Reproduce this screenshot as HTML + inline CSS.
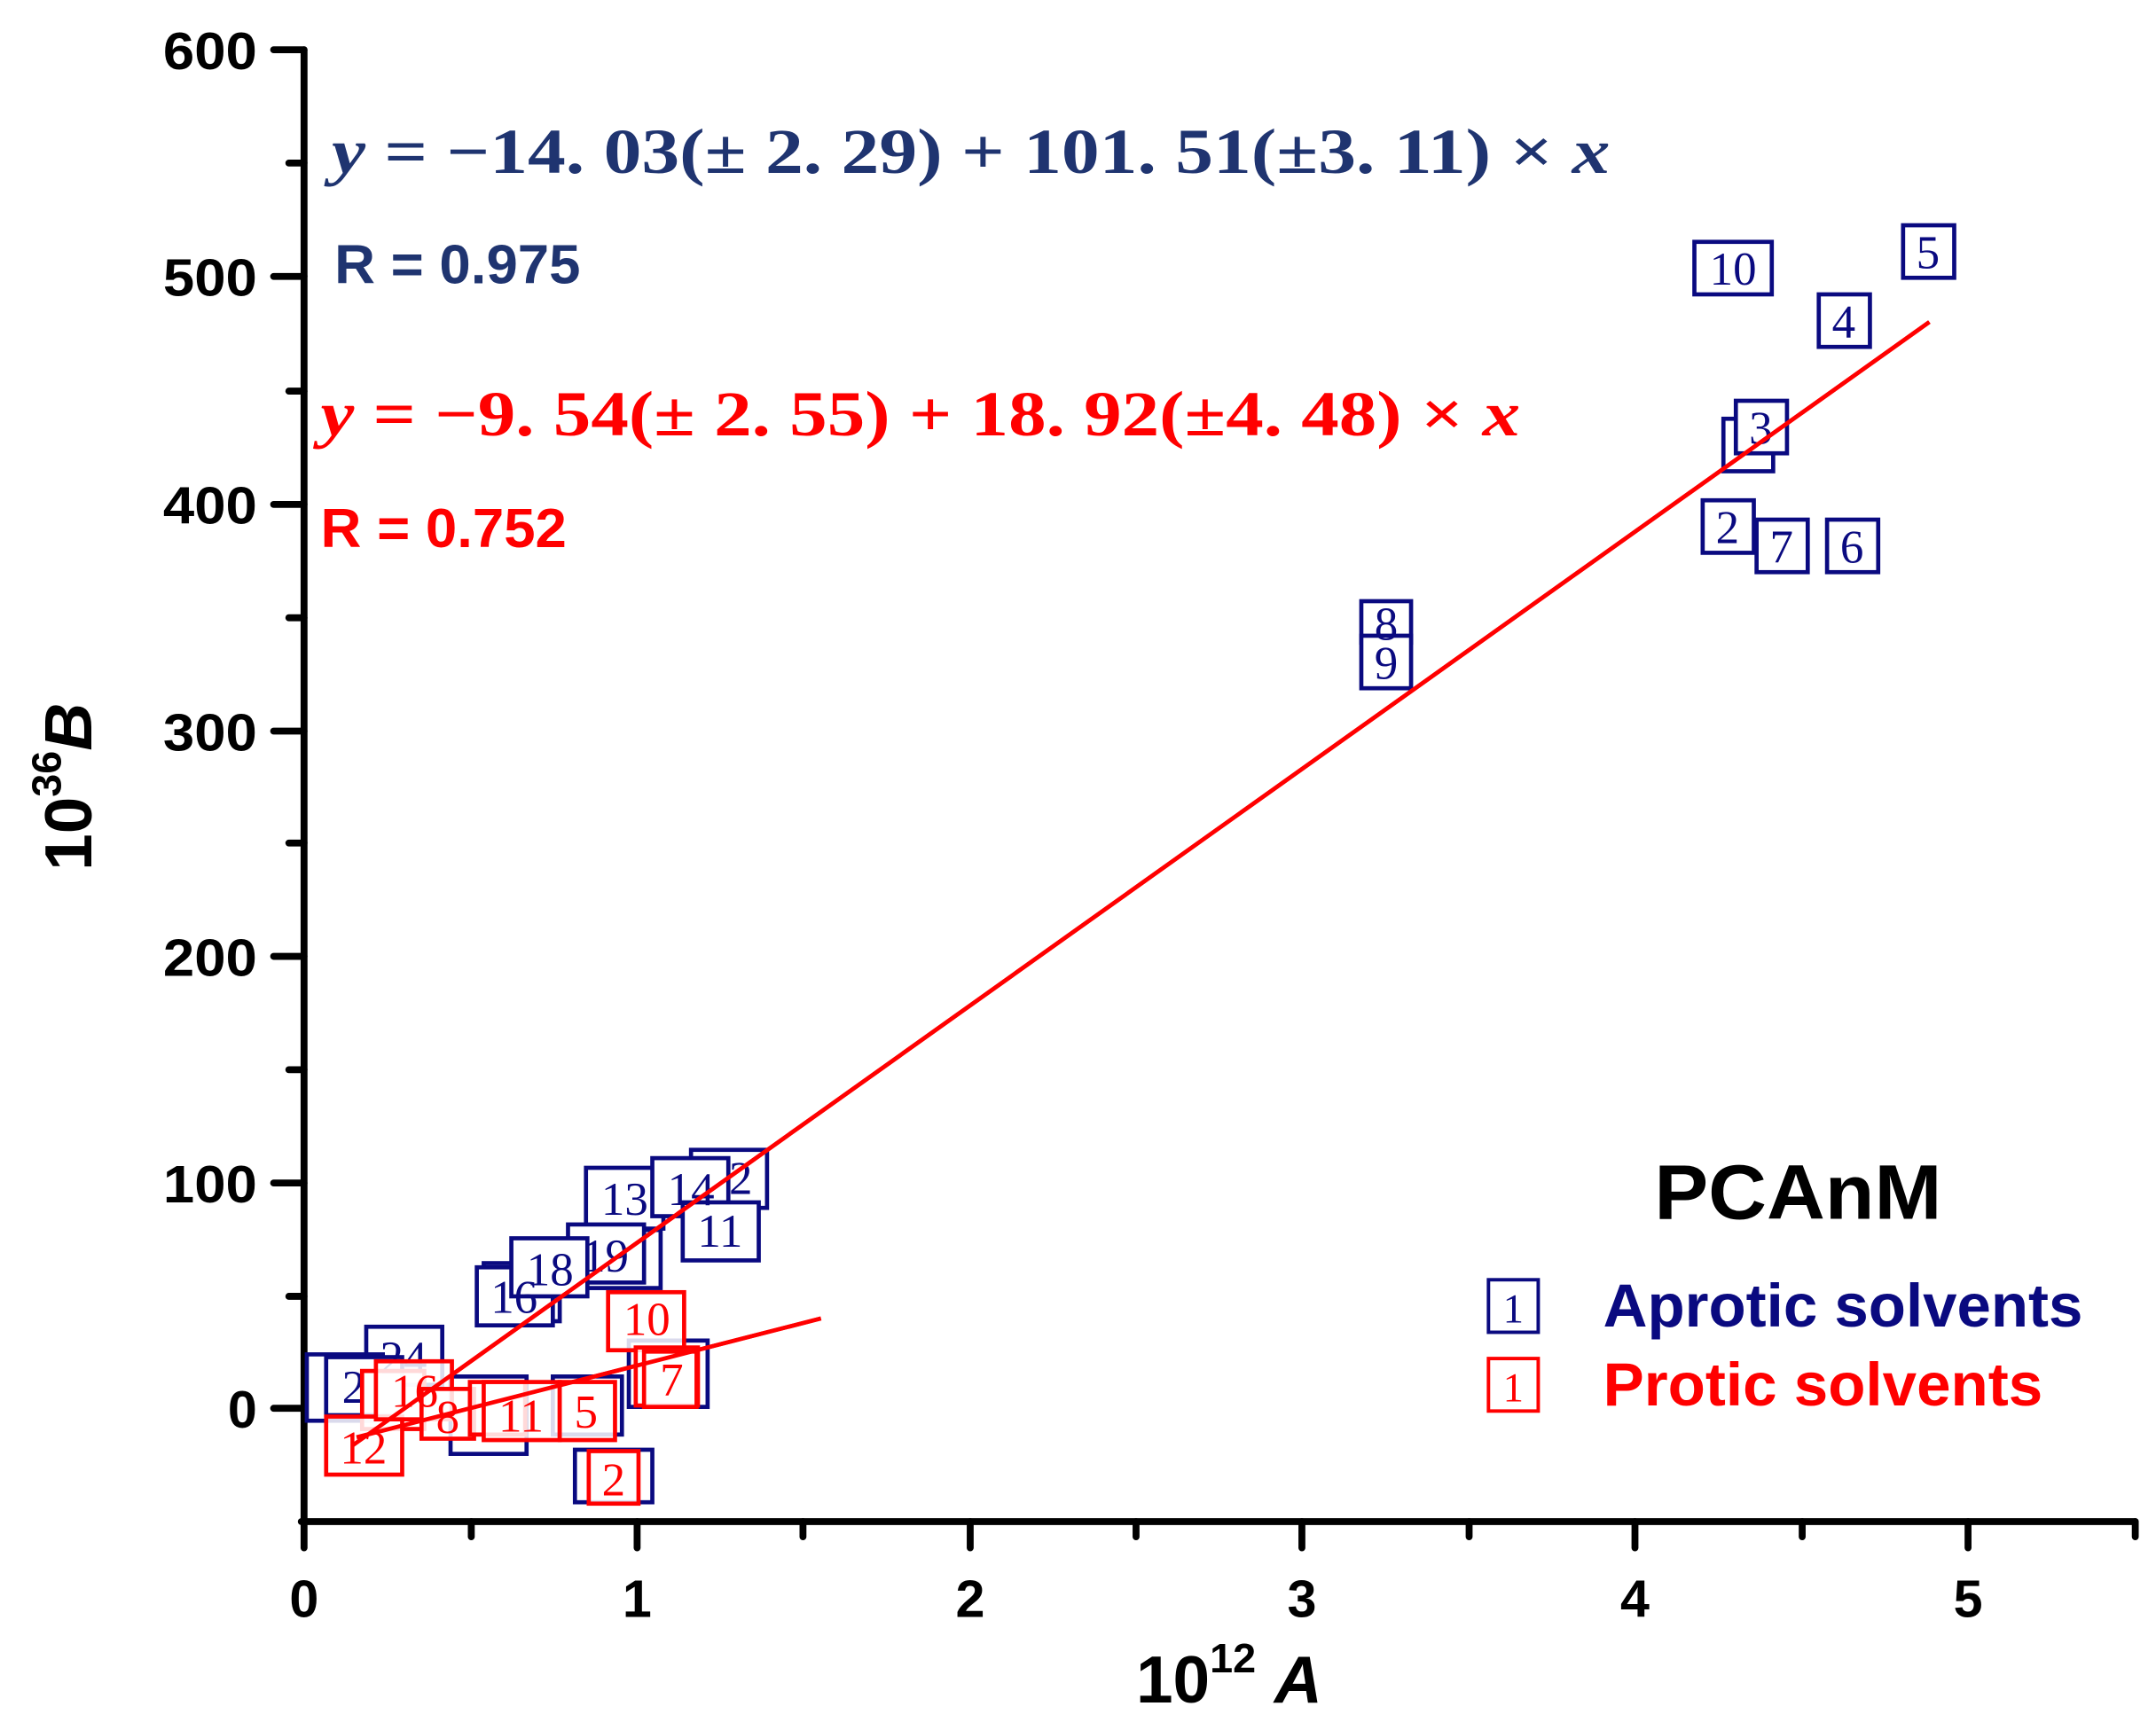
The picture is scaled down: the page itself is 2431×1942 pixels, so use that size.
<!DOCTYPE html>
<html><head><meta charset="utf-8"><style>
html,body{margin:0;padding:0;background:#fff;}
svg{display:block;}
</style></head><body>
<svg width="2431" height="1942" viewBox="0 0 1560 1246" preserveAspectRatio="none" xmlns="http://www.w3.org/2000/svg">
<rect width="1560" height="1246" fill="#fff"/>
<g stroke="#000" stroke-width="5" fill="none" stroke-linecap="round">
<line x1="220" y1="36" x2="220" y2="1102"/>
<line x1="218" y1="1101" x2="1545" y2="1101"/>
<line x1="198" y1="36" x2="220" y2="36"/>
<line x1="198" y1="200" x2="220" y2="200"/>
<line x1="198" y1="365" x2="220" y2="365"/>
<line x1="198" y1="529" x2="220" y2="529"/>
<line x1="198" y1="692" x2="220" y2="692"/>
<line x1="198" y1="856" x2="220" y2="856"/>
<line x1="198" y1="1019" x2="220" y2="1019"/>
<line x1="209" y1="118" x2="220" y2="118"/>
<line x1="209" y1="283" x2="220" y2="283"/>
<line x1="209" y1="447" x2="220" y2="447"/>
<line x1="209" y1="610" x2="220" y2="610"/>
<line x1="209" y1="774" x2="220" y2="774"/>
<line x1="209" y1="938" x2="220" y2="938"/>
<line x1="220" y1="1101" x2="220" y2="1120"/>
<line x1="461" y1="1101" x2="461" y2="1120"/>
<line x1="702" y1="1101" x2="702" y2="1120"/>
<line x1="942" y1="1101" x2="942" y2="1120"/>
<line x1="1183" y1="1101" x2="1183" y2="1120"/>
<line x1="1424" y1="1101" x2="1424" y2="1120"/>
<line x1="341" y1="1101" x2="341" y2="1112"/>
<line x1="581" y1="1101" x2="581" y2="1112"/>
<line x1="822" y1="1101" x2="822" y2="1112"/>
<line x1="1063" y1="1101" x2="1063" y2="1112"/>
<line x1="1304" y1="1101" x2="1304" y2="1112"/>
<line x1="1545" y1="1101" x2="1545" y2="1112"/>
</g>
<g font-family="Liberation Sans, sans-serif" font-weight="bold" font-size="38" fill="#000" text-anchor="end">
<text x="186" y="50" textLength="68" lengthAdjust="spacingAndGlyphs">600</text>
<text x="186" y="214" textLength="68" lengthAdjust="spacingAndGlyphs">500</text>
<text x="186" y="379" textLength="68" lengthAdjust="spacingAndGlyphs">400</text>
<text x="186" y="543" textLength="68" lengthAdjust="spacingAndGlyphs">300</text>
<text x="186" y="706" textLength="68" lengthAdjust="spacingAndGlyphs">200</text>
<text x="186" y="870" textLength="68" lengthAdjust="spacingAndGlyphs">100</text>
<text x="186" y="1033">0</text>
</g>
<g font-family="Liberation Sans, sans-serif" font-weight="bold" font-size="38" fill="#000" text-anchor="middle">
<text x="220" y="1170">0</text><text x="461" y="1170">1</text><text x="702" y="1170">2</text>
<text x="942" y="1170">3</text><text x="1183" y="1170">4</text><text x="1424" y="1170">5</text>
</g>
<text x="822" y="1232" font-family="Liberation Sans, sans-serif" font-weight="bold" font-size="48">10<tspan font-size="30" dy="-22">12</tspan><tspan dy="22"> </tspan><tspan font-style="italic">A</tspan></text>
<text transform="translate(66,630) rotate(-90)" font-family="Liberation Sans, sans-serif" font-weight="bold" font-size="48">10<tspan font-size="30" dy="-22">36</tspan><tspan dy="22" font-style="italic">B</tspan></text>

<text x="240" y="125" font-family="Liberation Serif, serif" font-weight="bold" font-size="46" fill="#1f3470" textLength="925" lengthAdjust="spacingAndGlyphs"><tspan font-style="italic">y</tspan> = −14. 03(± 2. 29) + 101. 51(±3. 11) × <tspan font-style="italic">x</tspan></text>
<text x="242" y="205" font-family="Liberation Sans, sans-serif" font-weight="bold" font-size="40" fill="#1f3470" textLength="178" lengthAdjust="spacingAndGlyphs">R = 0.975</text>
<text x="232" y="315" font-family="Liberation Serif, serif" font-weight="bold" font-size="46" fill="#ff0000" textLength="868" lengthAdjust="spacingAndGlyphs"><tspan font-style="italic">y</tspan> = −9. 54(± 2. 55) + 18. 92(±4. 48) × <tspan font-style="italic">x</tspan></text>
<text x="232" y="396" font-family="Liberation Sans, sans-serif" font-weight="bold" font-size="40" fill="#ff0000" textLength="178" lengthAdjust="spacingAndGlyphs">R = 0.752</text>

<g stroke="#0a0a80" stroke-width="3" fill="#fff">
<rect x="1226" y="175" width="56" height="38"/><rect x="1377" y="163" width="37" height="38"/>
<rect x="1316" y="213" width="37" height="38"/><rect x="1247" y="303" width="36" height="38"/>
<rect x="1256" y="290" width="37" height="38"/><rect x="1232" y="362" width="37" height="38"/>
<rect x="1271" y="376" width="37" height="38"/><rect x="1322" y="376" width="37" height="38"/>
<rect x="985" y="435" width="36" height="30"/><rect x="985" y="460" width="36" height="38"/>
<rect x="500" y="832" width="55" height="42"/><rect x="424" y="845" width="56" height="44"/>
<rect x="472" y="838" width="55" height="42"/><rect x="494" y="870" width="55" height="42"/>
<rect x="423" y="890" width="55" height="42"/><rect x="411" y="886" width="55" height="42"/>
<rect x="350" y="914" width="55" height="42"/><rect x="345" y="917" width="55" height="42"/>
<rect x="370" y="896" width="55" height="42"/>
<rect x="265" y="960" width="55" height="42"/><rect x="222" y="980" width="55" height="48"/>
<rect x="236" y="982" width="55" height="42"/>
<rect x="326" y="996" width="55" height="56"/><rect x="400" y="996" width="50" height="42"/>
<rect x="455" y="970" width="57" height="48"/><rect x="416" y="1049" width="56" height="38"/>
</g>
<g font-family="Liberation Serif, serif" font-size="34" fill="#0a0a80" text-anchor="middle">
<text x="1254" y="206">10</text><text x="1395" y="194">5</text><text x="1334" y="244">4</text>
<text x="1274" y="321">3</text><text x="1250" y="393">2</text><text x="1289" y="407">7</text>
<text x="1340" y="407">6</text><text x="1003" y="463">8</text><text x="1003" y="491">9</text>
<text x="536" y="864">2</text><text x="452" y="879">13</text><text x="500" y="872">14</text>
<text x="521" y="902">11</text><text x="438" y="920">19</text><text x="398" y="930">18</text>
<text x="372" y="950">16</text><text x="292" y="994">24</text><text x="256" y="1015">2</text>
</g>

<g stroke="#ff0000" stroke-width="3" fill="none">
<line x1="255" y1="1046" x2="1396" y2="233"/>
<line x1="258" y1="1040" x2="594" y2="954"/>
</g>

<g stroke="#ff0000" stroke-width="3" fill="#fff" fill-opacity="0.85">
<rect x="440" y="935" width="55" height="42"/>
<rect x="460" y="975" width="45" height="42"/><rect x="466" y="978" width="38" height="40"/>
<rect x="262" y="992" width="45" height="42"/>
<rect x="236" y="1025" width="55" height="42"/>
<rect x="272" y="985" width="55" height="42"/>
<rect x="305" y="1005" width="38" height="36"/>
<rect x="340" y="1000" width="40" height="38"/>
<rect x="350" y="1000" width="55" height="42"/>
<rect x="405" y="1000" width="40" height="42"/>
<rect x="426" y="1050" width="36" height="38"/>
</g>
<g font-family="Liberation Serif, serif" font-size="34" fill="#ff0000" text-anchor="middle">
<text x="468" y="966">10</text><text x="486" y="1010">7</text><text x="300" y="1018">16</text>
<text x="263" y="1059">12</text><text x="324" y="1037">8</text><text x="377" y="1036">11</text>
<text x="424" y="1033">5</text><text x="444" y="1082">2</text>
</g>
<g stroke="#ff0000" stroke-width="3" fill="none">
<line x1="255" y1="1046" x2="1396" y2="233"/>
<line x1="258" y1="1040" x2="594" y2="954"/>
</g>

<text x="1301" y="882" font-family="Liberation Sans, sans-serif" font-weight="bold" font-size="56" text-anchor="middle" textLength="208" lengthAdjust="spacingAndGlyphs">PCAnM</text>
<rect x="1077" y="926" width="36" height="38" fill="#fff" stroke="#0a0a80" stroke-width="2.5"/>
<text x="1095" y="957" font-family="Liberation Serif, serif" font-size="30" fill="#0a0a80" text-anchor="middle">1</text>
<rect x="1077" y="983" width="36" height="38" fill="#fff" stroke="#ff0000" stroke-width="2.5"/>
<text x="1095" y="1014" font-family="Liberation Serif, serif" font-size="30" fill="#ff0000" text-anchor="middle">1</text>
<text x="1160" y="960" font-family="Liberation Sans, sans-serif" font-weight="bold" font-size="44" fill="#0a0a80" textLength="347" lengthAdjust="spacingAndGlyphs">Aprotic solvents</text>
<text x="1160" y="1017" font-family="Liberation Sans, sans-serif" font-weight="bold" font-size="44" fill="#ff0000" textLength="318" lengthAdjust="spacingAndGlyphs">Protic solvents</text>
</svg>
</body></html>
